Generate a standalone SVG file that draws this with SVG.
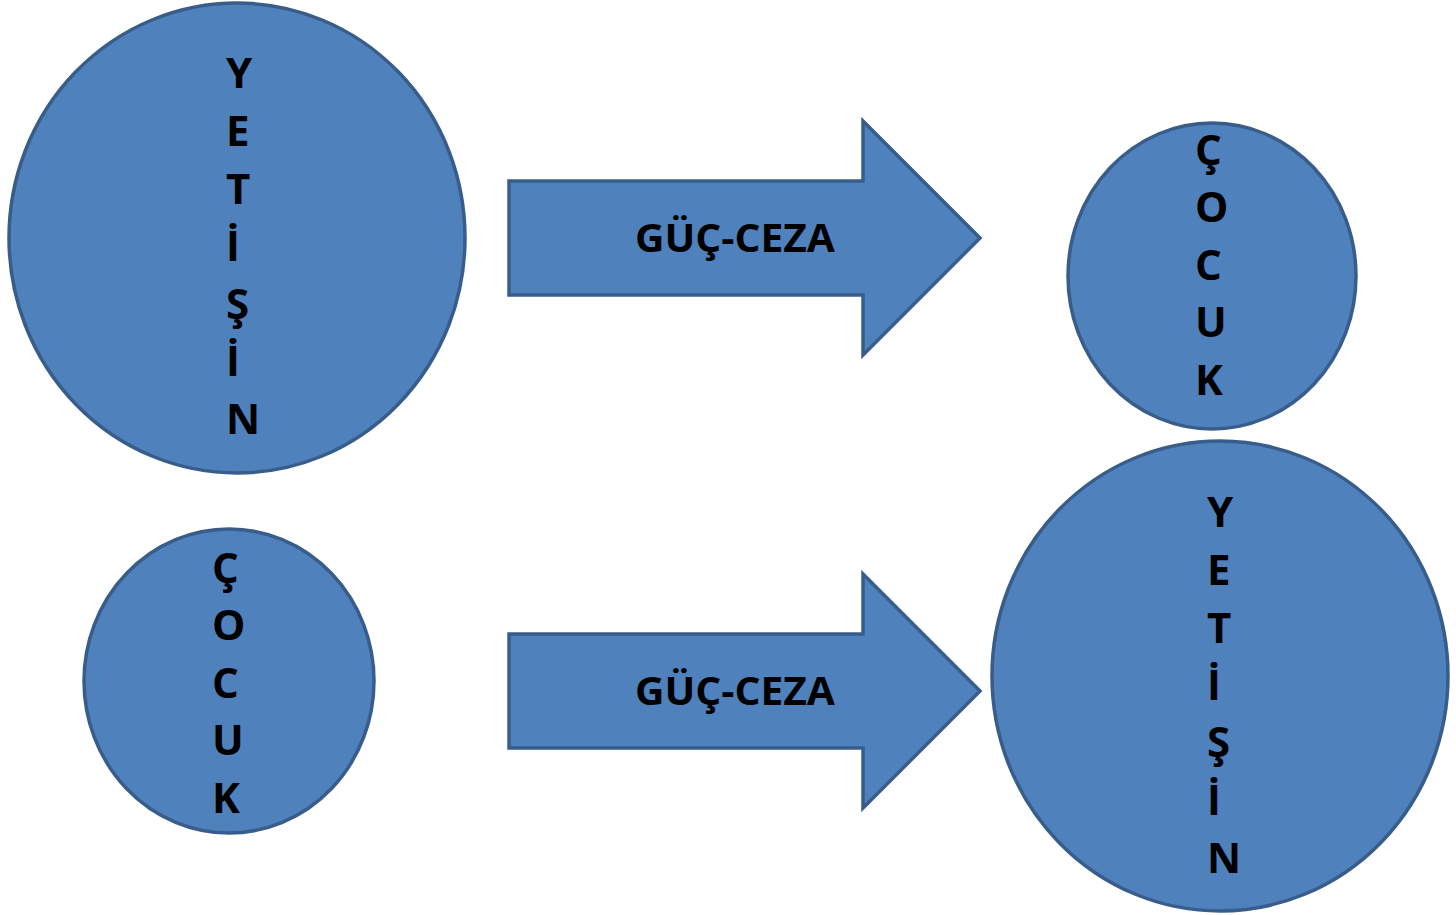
<svg xmlns="http://www.w3.org/2000/svg" width="1456" height="915" viewBox="0 0 1456 915">
<style>
.shape{fill:#4F81BD;stroke:#385D8A;stroke-width:3.5}
.v{font-family:"Open Sans","Liberation Sans",sans-serif;font-weight:bold;font-size:42px;fill:#000}
.lbl{font-family:"Open Sans","Liberation Sans",sans-serif;font-weight:bold;font-size:40px;fill:#000;text-anchor:middle}
</style>
<rect width="1456" height="915" fill="#fff"/>
<g id="connectors">
<g id="arrow1"><path class="shape" d="M509,181 H863 V121 L980,238 L863,355 V295 H509 Z"/><text class="lbl" x="735" y="252" textLength="200" lengthAdjust="spacingAndGlyphs">GÜÇ-CEZA</text></g>
<g id="arrow2"><path class="shape" d="M509,634 H863 V574 L980,691 L863,808 V748 H509 Z"/><text class="lbl" x="735" y="705" textLength="200" lengthAdjust="spacingAndGlyphs">GÜÇ-CEZA</text></g>
</g>
<g id="node-yetiskin-top">
<ellipse class="shape" cx="237" cy="238" rx="228" ry="235"/>
<text class="v" x="226" y="88">Y</text><text class="v" x="226" y="146">E</text><text class="v" x="226" y="204">T</text><text class="v" x="226" y="261">İ</text><text class="v" x="226" y="319">Ş</text><text class="v" x="226" y="376">İ</text><text class="v" x="226" y="434">N</text>
</g>
<g id="node-cocuk-top">
<ellipse class="shape" cx="1212" cy="276" rx="144" ry="153"/>
<text class="v" x="1195" y="165">Ç</text><text class="v" x="1195" y="222">O</text><text class="v" x="1195" y="280">C</text><text class="v" x="1195" y="337">U</text><text class="v" x="1195" y="395">K</text>
</g>
<g id="node-cocuk-bottom">
<ellipse class="shape" cx="229" cy="681" rx="145" ry="152"/>
<text class="v" x="212" y="583">Ç</text><text class="v" x="212" y="640">O</text><text class="v" x="212" y="698">C</text><text class="v" x="212" y="755">U</text><text class="v" x="212" y="813">K</text>
</g>
<g id="node-yetiskin-bottom">
<ellipse class="shape" cx="1220" cy="676" rx="228" ry="235"/>
<text class="v" x="1207" y="527">Y</text><text class="v" x="1207" y="585">E</text><text class="v" x="1207" y="643">T</text><text class="v" x="1207" y="700">İ</text><text class="v" x="1207" y="757">Ş</text><text class="v" x="1207" y="815">İ</text><text class="v" x="1207" y="873">N</text>
</g>
</svg>
